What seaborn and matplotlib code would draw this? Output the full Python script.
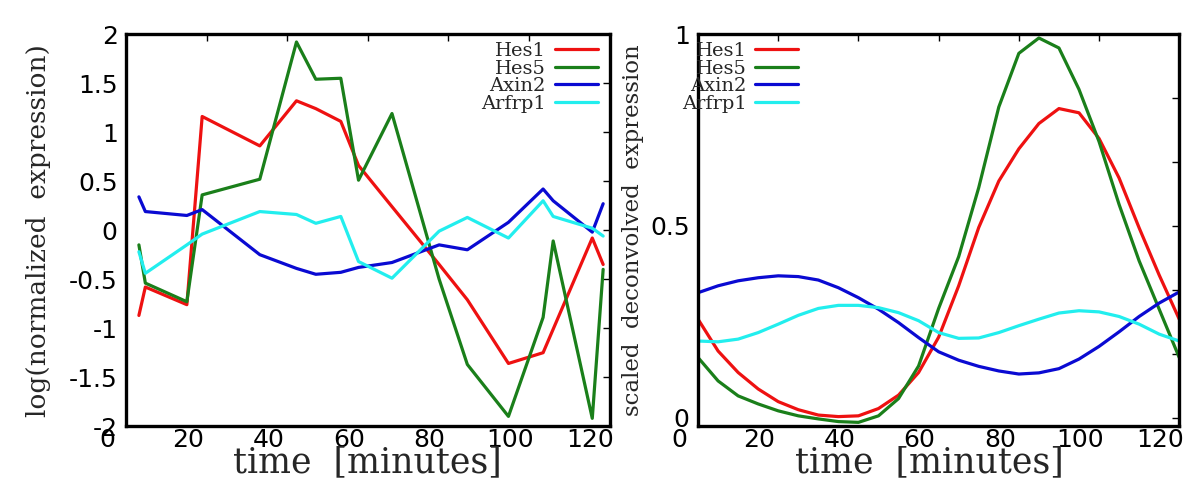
import matplotlib
matplotlib.use('Agg')
import matplotlib.pyplot as plt
import matplotlib.transforms as mtransforms
import seaborn as sns

# measured time points (minutes) and log expression, left panel
raw_time = [3.2, 4.8, 15.1, 18.9, 33.2, 42.3, 47.1, 53.3, 57.7, 66.0,
            77.7, 84.7, 94.9, 103.5, 106.0, 115.7, 118.4]
raw_hes1 = [-0.87, -0.58, -0.76, 1.16, 0.86, 1.32, 1.24, 1.11, 0.66, 0.24,
            -0.35, -0.71, -1.36, -1.25, -1.01, -0.08, -0.35]
raw_hes5 = [-0.15, -0.54, -0.73, 0.36, 0.52, 1.92, 1.54, 1.55, 0.51, 1.19,
            -0.50, -1.37, -1.90, -0.89, -0.11, -1.92, -0.40]
raw_axin2 = [0.34, 0.19, 0.15, 0.21, -0.25, -0.39, -0.45, -0.43, -0.38, -0.33,
             -0.15, -0.20, 0.08, 0.42, 0.30, -0.02, 0.27]
raw_arfrp1 = [-0.22, -0.44, -0.15, -0.04, 0.19, 0.16, 0.07, 0.14, -0.32, -0.49,
              -0.01, 0.13, -0.08, 0.30, 0.14, 0.02, -0.06]

# deconvolved profiles, right panel (every 5 minutes)
dec_time = [0, 5, 10, 15, 20, 25, 30, 35, 40, 45, 50, 55, 60,
            65, 70, 75, 80, 85, 90, 95, 100, 105, 110, 115, 120]
dec_hes1 = [0.257, 0.174, 0.118, 0.075, 0.042, 0.021, 0.007, 0.003, 0.005, 0.024,
            0.059, 0.118, 0.21, 0.344, 0.496, 0.617, 0.701, 0.767, 0.806, 0.795,
            0.728, 0.625, 0.495, 0.372, 0.257]
dec_hes5 = [0.157, 0.096, 0.057, 0.036, 0.018, 0.005, -0.003, -0.010, -0.012, 0.005,
            0.050, 0.135, 0.285, 0.42, 0.60, 0.81, 0.95, 0.99, 0.964, 0.856,
            0.72, 0.556, 0.409, 0.283, 0.157]
dec_axin2 = [0.326, 0.344, 0.357, 0.365, 0.370, 0.368, 0.359, 0.339, 0.313, 0.283,
             0.248, 0.209, 0.172, 0.150, 0.134, 0.122, 0.114, 0.117, 0.128, 0.153,
             0.186, 0.224, 0.264, 0.299, 0.328]
dec_arfrp1 = [0.200, 0.198, 0.205, 0.222, 0.244, 0.267, 0.285, 0.293, 0.293, 0.287,
              0.274, 0.253, 0.222, 0.207, 0.208, 0.222, 0.240, 0.257, 0.273, 0.279,
              0.276, 0.264, 0.244, 0.218, 0.200]

genes = ['Hes1', 'Hes5', 'Axin2', 'Arfrp1']
colors = {'Hes1': '#ee1111', 'Hes5': '#1a7f1a', 'Axin2': '#0a0ad2', 'Arfrp1': '#22eeee'}

x_ticks = [0, 20, 40, 60, 80, 100, 120]
x_labels = ['0', '20', '40', '60', '80', '100', '120']
left_yticks = [-2, -1.5, -1, -0.5, 0, 0.5, 1, 1.5, 2]
left_ylabels = ['-2', '-1.5', '-1', '-0.5', '0', '0.5', '1', '1.5', '2']
right_yticks = [0, 1 / 6, 2 / 6, 0.5, 4 / 6, 5 / 6, 1]
right_ylabels = ['0', '', '', '0.5', '', '', '1']


def style_axes(ax, fig, yticks, ylabels):
    ax.set_xlim(0, 120)
    ax.set_xticks(x_ticks)
    ax.set_xticklabels(x_labels)
    ax.set_yticks(yticks)
    ax.set_yticklabels(ylabels)
    ax.tick_params(direction='in', length=5, width=1, top=True, right=True,
                   labelsize=18, colors='black')
    ax.tick_params(axis='x', pad=1)
    ax.tick_params(axis='y', pad=6)
    for sp in ax.spines.values():
        sp.set_linewidth(2.4)
        sp.set_color('black')
    # tick labels sit a little left of their ticks in the original
    shift = mtransforms.ScaledTranslation(-0.19, 0, fig.dpi_scale_trans)
    for lab in ax.get_xticklabels():
        lab.set_transform(lab.get_transform() + shift)
        lab.set_family('DejaVu Sans')
    for lab in ax.get_yticklabels():
        lab.set_family('DejaVu Sans')


def main():
    sns.set_style('white')
    plt.rcParams['font.family'] = ['DejaVu Serif']

    fig = plt.figure(figsize=(12, 4.95), dpi=100)
    ax1 = fig.add_axes([0.105, 0.139, 0.403, 0.792])
    ax2 = fig.add_axes([0.5817, 0.139, 0.401, 0.792])

    raw = {'Hes1': raw_hes1, 'Hes5': raw_hes5, 'Axin2': raw_axin2, 'Arfrp1': raw_arfrp1}
    dec = {'Hes1': dec_hes1, 'Hes5': dec_hes5, 'Axin2': dec_axin2, 'Arfrp1': dec_arfrp1}

    for g in genes:
        sns.lineplot(x=raw_time, y=raw[g], color=colors[g], lw=2.3, label=g, ax=ax1)
        sns.lineplot(x=dec_time, y=dec[g], color=colors[g], lw=2.3, label=g, ax=ax2)

    ax1.set_ylim(-2, 2)
    ax2.set_ylim(-0.022, 1.0)
    style_axes(ax1, fig, left_yticks, left_ylabels)
    style_axes(ax2, fig, right_yticks, right_ylabels)

    ax1.set_xlabel('time  [minutes]', fontsize=25, va='center')
    ax2.set_xlabel('time  [minutes]', fontsize=25, va='center')
    ax1.xaxis.set_label_coords(0.5, -0.092)
    ax2.xaxis.set_label_coords(0.48, -0.092)
    ax1.set_ylabel('log(normalized  expression)', fontsize=19, va='center')
    ax1.yaxis.set_label_coords(-0.18, 0.5)
    ax2.set_ylabel('scaled  deconvolved  expression', fontsize=16.5, va='center')
    ax2.yaxis.set_label_coords(-0.135, 0.5)

    leg_opts = dict(loc='upper right', frameon=False, markerfirst=False, fontsize=14,
                    handlelength=2.2, handletextpad=0.45, labelspacing=-0.02,
                    borderpad=0, borderaxespad=0)
    ax1.legend(bbox_to_anchor=(0.975, 0.98), **leg_opts)
    ax2.legend(bbox_to_anchor=(0.208, 0.98), **leg_opts)

    fig.savefig('out.png', dpi=100)
    plt.close(fig)


if __name__ == '__main__':
    main()
